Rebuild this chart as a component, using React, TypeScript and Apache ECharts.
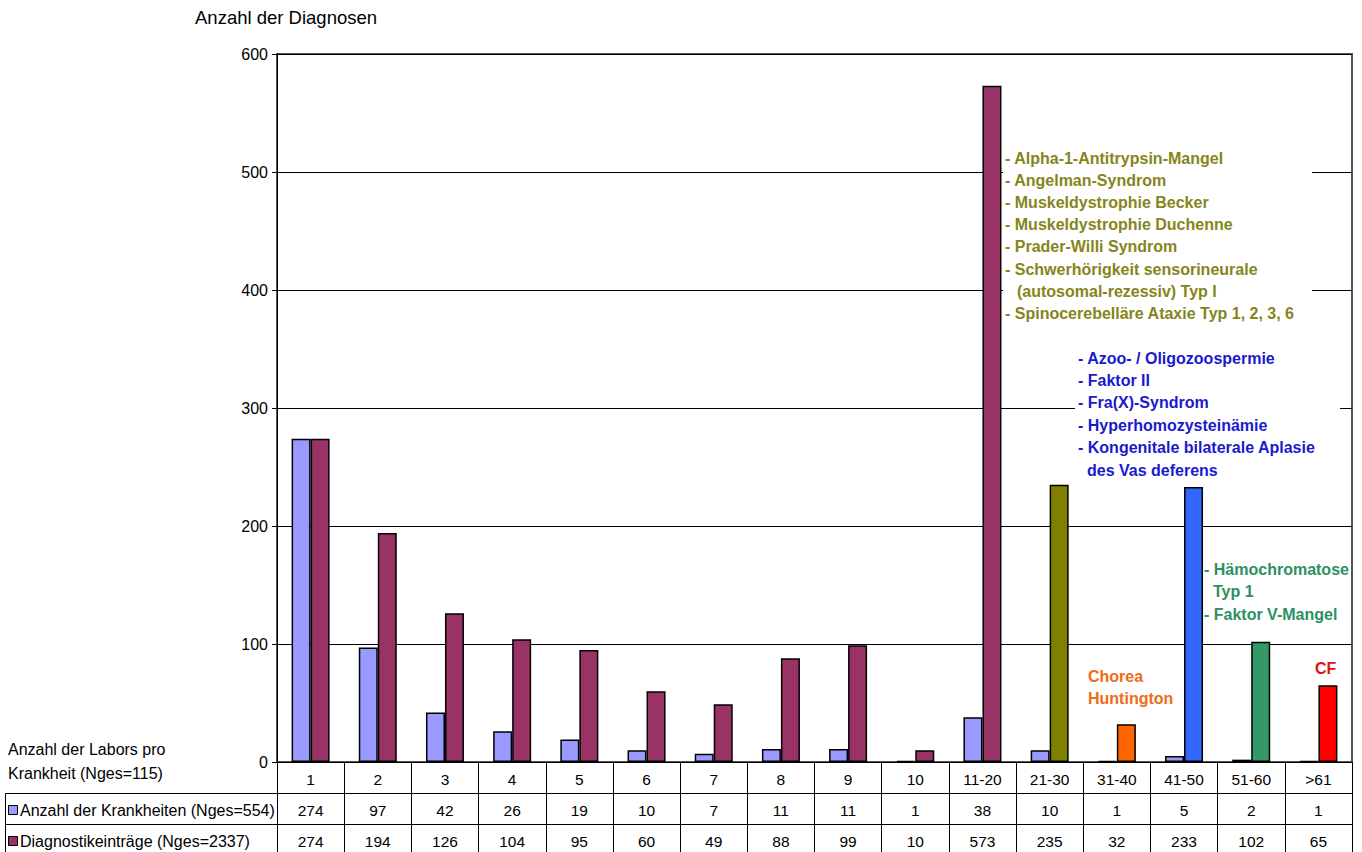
import React, { useEffect, useRef } from "react";
import * as echarts from "echarts";

// Number of labs offering a diagnosis (category axis / first table row)
const categories = ["1", "2", "3", "4", "5", "6", "7", "8", "9", "10", "11-20", "21-30", "31-40", "41-50", "51-60", ">61"];
// Number of diseases per lab-count class
const diseaseCounts = [274, 97, 42, 26, 19, 10, 7, 11, 11, 1, 38, 10, 1, 5, 2, 1];
// Number of diagnostic entries per lab-count class
const diagnosisEntries = [274, 194, 126, 104, 95, 60, 49, 88, 99, 10, 573, 235, 32, 233, 102, 65];

const yTicks = [0, 100, 200, 300, 400, 500, 600];

const seriesNames = ["Anzahl der Krankheiten (Nges=554)", "Diagnostikeinträge (Nges=2337)"];
const rowHeaderLines = ["Anzahl der Labors pro", "Krankheit (Nges=115)"];
const yAxisTitle = "Anzahl der Diagnosen";

// Diseases offered by many labs, grouped by class (leading spaces = continuation line)
const olivList = [
  "- Alpha-1-Antitrypsin-Mangel",
  "- Angelman-Syndrom",
  "- Muskeldystrophie Becker",
  "- Muskeldystrophie Duchenne",
  "- Prader-Willi Syndrom",
  "- Schwerhörigkeit sensorineurale",
  "  (autosomal-rezessiv) Typ I",
  "- Spinocerebelläre Ataxie Typ 1, 2, 3, 6",
];
const blueList = [
  "- Azoo- / Oligozoospermie",
  "- Faktor II",
  "- Fra(X)-Syndrom",
  "- Hyperhomozysteinämie",
  "- Kongenitale bilaterale Aplasie",
  "  des Vas deferens",
];
const greenList = ["- Hämochromatose", "  Typ 1", "- Faktor V-Mangel"];
const orangeList = ["Chorea", "Huntington"];
const redList = ["CF"];

const FONT = '"Liberation Sans", Arial, sans-serif';
const LIGHT = "#9999FF";
const MAROON = "#993366";
const OLIVE = "#808000";
const ORANGE = "#FF6600";
const BLUE = "#3366FF";
const GREEN = "#339966";
const RED = "#FF0000";

const groupColor = (i: number) => {
  const cat = categories[i];
  if (cat === "21-30") return OLIVE;
  if (cat === "31-40") return ORANGE;
  if (cat === "41-50") return BLUE;
  if (cat === "51-60") return GREEN;
  if (cat === ">61") return RED;
  return MAROON;
};

const tableAxis = (labels: (string | number)[], offset: number) => ({
  type: "category",
  gridIndex: 0,
  position: "bottom",
  offset,
  data: labels.map(String),
  boundaryGap: true,
  axisLine: { show: true, lineStyle: { color: "#000", width: 1 } },
  axisTick: { show: true, inside: false, length: 31, interval: 0, lineStyle: { color: "#000", width: 1 } },
  axisLabel: { interval: 0, margin: 9, fontSize: 15.5, color: "#000", fontFamily: FONT },
  splitLine: { show: false },
});

const listTexts = (
  lines: string[],
  x: number,
  y: number,
  step: number,
  indent: number,
  color: string
) =>
  lines.map((line, i) => {
    const cont = line.startsWith(" ");
    return {
      type: "text",
      x: cont ? x + indent : x,
      y: y + i * step,
      z: 10,
      style: {
        text: line.trim(),
        fill: color,
        font: `bold 16px ${FONT}`,
        verticalAlign: "middle",
      },
    };
  });

export default function App() {
  const ref = useRef<HTMLDivElement>(null);

  useEffect(() => {
    if (!ref.current) return;
    const chart = echarts.init(ref.current, undefined, { renderer: "svg" });

    const option = {
      animation: false,
      backgroundColor: "#fff",
      grid: {
        left: 277,
        right: 10,
        top: 54,
        bottom: 90,
        show: true,
        borderColor: "#555",
        borderWidth: 2,
        backgroundColor: "transparent",
      },
      xAxis: [
        tableAxis(categories, 0),
        tableAxis(diseaseCounts, 31),
        tableAxis(diagnosisEntries, 62),
      ],
      yAxis: {
        type: "value",
        min: 0,
        max: 600,
        interval: 100,
        axisLine: { show: true, lineStyle: { color: "#000", width: 1 } },
        axisTick: { show: true, length: 5, lineStyle: { color: "#000" } },
        axisLabel: {
          margin: 9,
          fontSize: 16,
          color: "#000",
          fontFamily: FONT,
          customValues: yTicks,
        },
        splitLine: { show: true, lineStyle: { color: "#000", width: 1 } },
      },
      series: [
        {
          name: seriesNames[0],
          type: "bar",
          xAxisIndex: 0,
          barWidth: 19,
          barGap: "0%",
          data: diseaseCounts,
          itemStyle: { color: LIGHT, borderColor: "#000", borderWidth: 1.5 },
          z: 5,
        },
        {
          name: seriesNames[1],
          type: "bar",
          xAxisIndex: 0,
          barWidth: 19,
          barGap: "0%",
          data: diagnosisEntries.map((v, i) => ({ value: v, itemStyle: { color: groupColor(i) } })),
          itemStyle: { color: MAROON, borderColor: "#000", borderWidth: 1.5 },
          z: 5,
        },
      ],
      graphic: [
        // y-axis title
        {
          type: "text",
          x: 195,
          y: 17,
          style: { text: yAxisTitle, fill: "#000", font: `18.5px ${FONT}`, verticalAlign: "middle" },
        },
        // table row header
        {
          type: "text",
          x: 8,
          y: 749,
          style: { text: rowHeaderLines[0], fill: "#000", font: `16px ${FONT}`, verticalAlign: "middle" },
        },
        {
          type: "text",
          x: 8,
          y: 773,
          style: { text: rowHeaderLines[1], fill: "#000", font: `16px ${FONT}`, verticalAlign: "middle" },
        },
        // data table header cells
        { type: "line", shape: { x1: 5.5, y1: 793.5, x2: 277, y2: 793.5 }, style: { stroke: "#000", lineWidth: 1 } },
        { type: "line", shape: { x1: 5.5, y1: 824.5, x2: 277, y2: 824.5 }, style: { stroke: "#000", lineWidth: 1 } },
        { type: "line", shape: { x1: 5.5, y1: 793.5, x2: 5.5, y2: 856 }, style: { stroke: "#000", lineWidth: 1 } },
        // legend keys
        { type: "rect", shape: { x: 8.5, y: 805.5, width: 9, height: 9 }, style: { fill: LIGHT, stroke: "#000", lineWidth: 1 } },
        { type: "rect", shape: { x: 8.5, y: 836.5, width: 9, height: 9 }, style: { fill: MAROON, stroke: "#000", lineWidth: 1 } },
        {
          type: "text",
          x: 20,
          y: 810,
          style: { text: seriesNames[0], fill: "#000", font: `16px ${FONT}`, verticalAlign: "middle" },
        },
        {
          type: "text",
          x: 20,
          y: 841,
          style: { text: seriesNames[1], fill: "#000", font: `16px ${FONT}`, verticalAlign: "middle" },
        },
        // white boxes behind the annotation lists
        { type: "rect", z: 1, shape: { x: 1003, y: 142, width: 309, height: 186 }, style: { fill: "#fff" } },
        { type: "rect", z: 1, shape: { x: 1075, y: 344, width: 265, height: 138 }, style: { fill: "#fff" } },
        ...listTexts(olivList, 1005, 158, 22.2, 12, "#85851a"),
        ...listTexts(blueList, 1078, 358, 22.4, 9, "#1a1acc"),
        ...listTexts(greenList, 1204, 569, 22.5, 9, "#2f8f62"),
        ...listTexts(orangeList, 1088, 676, 22, 0, "#f06a18"),
        ...listTexts(redList, 1315, 668, 22, 0, "#e01010"),
      ],
    };

    chart.setOption(option as any);
    return () => chart.dispose();
  }, []);

  return (
    <div
      ref={ref}
      style={{ position: "fixed", left: 0, top: 0, width: 1362, height: 852, background: "#fff" }}
    />
  );
}
